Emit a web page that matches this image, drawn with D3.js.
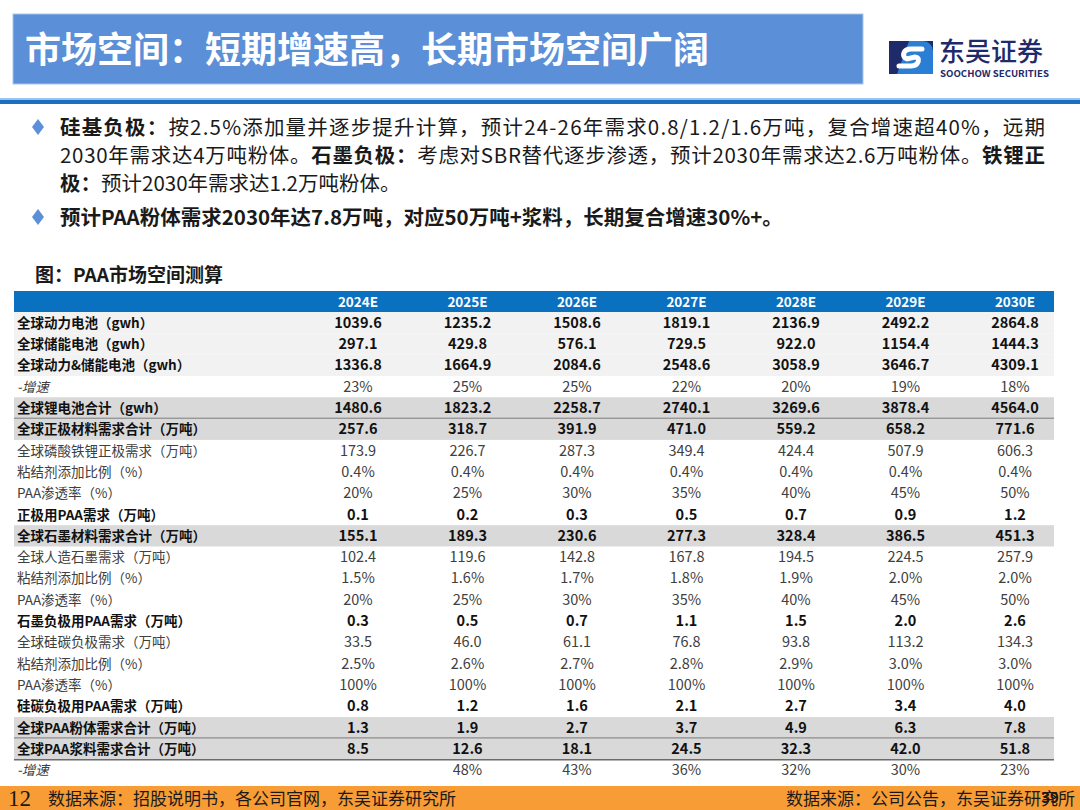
<!DOCTYPE html>
<html>
<head>
<meta charset="utf-8">
<script src="https://cdn.jsdelivr.net/npm/d3@7"></script>
<style>
  html, body { margin: 0; padding: 0; background: #fff; }
  svg { display: block; font-family: "Noto Sans CJK SC", "Noto Sans", sans-serif; }
</style>
</head>
<body>
<svg id="chart" width="1080" height="810"></svg>
<script>
// 表头与各行数据
const years = ["2024E", "2025E", "2026E", "2027E", "2028E", "2029E", "2030E"];

const powerBattery   = [1039.6, 1235.2, 1508.6, 1819.1, 2136.9, 2492.2, 2864.8];
const storageBattery = [297.1, 429.8, 576.1, 729.5, 922.0, 1154.4, 1444.3];
const powerStorage   = [1336.8, 1664.9, 2084.6, 2548.6, 3058.9, 3646.7, 4309.1];
const batteryGrowth  = [23, 25, 25, 22, 20, 19, 18];
const lithiumTotal   = [1480.6, 1823.2, 2258.7, 2740.1, 3269.6, 3878.4, 4564.0];
const cathodeTotal   = [257.6, 318.7, 391.9, 471.0, 559.2, 658.2, 771.6];
const lfpCathode     = [173.9, 226.7, 287.3, 349.4, 424.4, 507.9, 606.3];
const cathodeBinder  = [0.4, 0.4, 0.4, 0.4, 0.4, 0.4, 0.4];
const cathodePen     = [20, 25, 30, 35, 40, 45, 50];
const cathodePaa     = [0.1, 0.2, 0.3, 0.5, 0.7, 0.9, 1.2];
const graphiteTotal  = [155.1, 189.3, 230.6, 277.3, 328.4, 386.5, 451.3];
const artGraphite    = [102.4, 119.6, 142.8, 167.8, 194.5, 224.5, 257.9];
const graphiteBinder = [1.5, 1.6, 1.7, 1.8, 1.9, 2.0, 2.0];
const graphitePen    = [20, 25, 30, 35, 40, 45, 50];
const graphitePaa    = [0.3, 0.5, 0.7, 1.1, 1.5, 2.0, 2.6];
const siCarbon       = [33.5, 46.0, 61.1, 76.8, 93.8, 113.2, 134.3];
const siBinder       = [2.5, 2.6, 2.7, 2.8, 2.9, 3.0, 3.0];
const siPen          = [100, 100, 100, 100, 100, 100, 100];
const siPaa          = [0.8, 1.2, 1.6, 2.1, 2.7, 3.4, 4.0];
const paaPowder      = [1.3, 1.9, 2.7, 3.7, 4.9, 6.3, 7.8];
const paaSlurry      = [8.5, 12.6, 18.1, 24.5, 32.3, 42.0, 51.8];
const slurryGrowth   = [null, 48, 43, 36, 32, 30, 23];

const num = d3.format(".1f");
const pct = v => v + "%";
const pct1 = v => d3.format(".1f")(v) + "%";

// kind: b=粗体, n=常规, g=增速(斜体)  shade: 0 无, 1 浅灰, 2 灰
const rows = [
  { label: "全球动力电池（gwh）", values: powerBattery, fmt: num, kind: "b", shade: 1 },
  { label: "全球储能电池（gwh）", values: storageBattery, fmt: num, kind: "b", shade: 1 },
  { label: "全球动力&储能电池（gwh）", values: powerStorage, fmt: num, kind: "b", shade: 1 },
  { label: "-增速", values: batteryGrowth, fmt: pct, kind: "g", shade: 0 },
  { label: "全球锂电池合计（gwh）", values: lithiumTotal, fmt: num, kind: "b", shade: 2, lineBelow: true },
  { label: "全球正极材料需求合计（万吨）", values: cathodeTotal, fmt: num, kind: "b", shade: 2 },
  { label: "全球磷酸铁锂正极需求（万吨）", values: lfpCathode, fmt: num, kind: "n", shade: 0 },
  { label: "粘结剂添加比例（%）", values: cathodeBinder, fmt: pct1, kind: "n", shade: 0 },
  { label: "PAA渗透率（%）", values: cathodePen, fmt: pct, kind: "n", shade: 0 },
  { label: "正极用PAA需求（万吨）", values: cathodePaa, fmt: num, kind: "b", shade: 0 },
  { label: "全球石墨材料需求合计（万吨）", values: graphiteTotal, fmt: num, kind: "b", shade: 2 },
  { label: "全球人造石墨需求（万吨）", values: artGraphite, fmt: num, kind: "n", shade: 0 },
  { label: "粘结剂添加比例（%）", values: graphiteBinder, fmt: pct1, kind: "n", shade: 0 },
  { label: "PAA渗透率（%）", values: graphitePen, fmt: pct, kind: "n", shade: 0 },
  { label: "石墨负极用PAA需求（万吨）", values: graphitePaa, fmt: num, kind: "b", shade: 0 },
  { label: "全球硅碳负极需求（万吨）", values: siCarbon, fmt: num, kind: "n", shade: 0 },
  { label: "粘结剂添加比例（%）", values: siBinder, fmt: pct1, kind: "n", shade: 0 },
  { label: "PAA渗透率（%）", values: siPen, fmt: pct, kind: "n", shade: 0 },
  { label: "硅碳负极用PAA需求（万吨）", values: siPaa, fmt: num, kind: "b", shade: 0 },
  { label: "全球PAA粉体需求合计（万吨）", values: paaPowder, fmt: num, kind: "b", shade: 2, lineBelow: true },
  { label: "全球PAA浆料需求合计（万吨）", values: paaSlurry, fmt: num, kind: "b", shade: 2, lineBelow: true },
  { label: "-增速", values: slurryGrowth, fmt: pct, kind: "g", shade: 0 }
];

const svg = d3.select("#chart");

// ---- 标题栏 ----
svg.append("rect").attr("x", 13).attr("y", 14).attr("width", 850).attr("height", 70)
  .attr("fill", "#5b8fd7").attr("stroke", "#a9c6ec").attr("stroke-width", 1);
svg.append("text").attr("x", 25).attr("y", 63)
  .attr("fill", "#fff").attr("font-size", 36).attr("font-weight", 700)
  .text("市场空间：短期增速高，长期市场空间广阔");

// logo
const logo = svg.append("g").attr("transform", "translate(889,41)");
logo.append("rect").attr("width", 44).attr("height", 33).attr("fill", "#1f2a6b");
logo.append("path").attr("d", "M20,0 H34 A10,10 0 0 1 44,10 V33 H8 Z").attr("fill", "#2a7fd4");
logo.append("path")
  .attr("d", "M33,8 L22,8 C14,8 12,16 18,18 L26,16 C32,16 30,25 22,25 L10,25")
  .attr("fill", "none").attr("stroke", "#fff").attr("stroke-width", 5).attr("stroke-linecap", "round");
svg.append("text").attr("x", 939).attr("y", 61)
  .attr("fill", "#1f2a6b").attr("font-size", 26).attr("font-weight", 500)
  .text("东吴证券");
svg.append("text").attr("x", 940).attr("y", 77)
  .attr("fill", "#1f2a6b").attr("font-size", 9).attr("font-weight", 700)
  .attr("textLength", 109).attr("lengthAdjust", "spacingAndGlyphs")
  .text("SOOCHOW SECURITIES");

// 分隔线
svg.append("rect").attr("x", 0).attr("y", 98).attr("width", 1080).attr("height", 2).attr("fill", "#9cc3ea");
svg.append("rect").attr("x", 0).attr("y", 100).attr("width", 1080).attr("height", 4).attr("fill", "#1b6fc0");

// ---- 要点 ----
function diamond(cx, cy) {
  svg.append("path")
    .attr("d", `M${cx},${cy - 8} L${cx + 6},${cy} L${cx},${cy + 8} L${cx - 6},${cy} Z`)
    .attr("fill", "#5b8fd7");
}
diamond(38, 127);
diamond(38, 217);

const bulletLines = [
  { y: 135, parts: [["硅基负极：", 700], ["按2.5%添加量并逐步提升计算，预计24-26年需求0.8/1.2/1.6万吨，复合增速超40%，远期", 400]] },
  { y: 163, parts: [["2030年需求达4万吨粉体。", 400], ["石墨负极：", 700], ["考虑对SBR替代逐步渗透，预计2030年需求达2.6万吨粉体。", 400], ["铁锂正", 700]] },
  { y: 191, parts: [["极：", 700], ["预计2030年需求达1.2万吨粉体。", 400]] },
  { y: 225, parts: [["预计PAA粉体需求2030年达7.8万吨，对应50万吨+浆料，长期复合增速30%+。", 700]] }
];
bulletLines.forEach((ln, i) => {
  const t = svg.append("text").attr("x", 60).attr("y", ln.y)
    .attr("font-size", 20.5).attr("fill", "#1a1a1a");
  ln.parts.forEach(p => t.append("tspan").attr("font-weight", p[1]).text(p[0]));
  if (i < 2) t.attr("textLength", 985).attr("lengthAdjust", "spacing");
});

svg.append("text").attr("x", 35).attr("y", 282)
  .attr("font-size", 19).attr("font-weight", 700).attr("fill", "#1a1a1a")
  .text("图：PAA市场空间测算");

// ---- 表格 ----
const tableLeft = 14, tableRight = 1054;
const x = d3.scalePoint().domain(years).range([358, 1015]);
const y = d3.scaleBand().domain(d3.range(rows.length)).range([312, 781]);
const headerTop = 291;

svg.append("rect").attr("x", tableLeft).attr("y", headerTop)
  .attr("width", tableRight - tableLeft).attr("height", y(0) - headerTop)
  .attr("fill", "#0a70c0");
svg.append("g").selectAll("text").data(years).join("text")
  .attr("x", d => x(d)).attr("y", (headerTop + y(0)) / 2 + 5)
  .attr("text-anchor", "middle").attr("fill", "#fff")
  .attr("font-size", 13.5).attr("font-weight", 700)
  .text(d => d);

const shadeColor = ["none", "#f2f2f2", "#d9d9d9"];
const rowG = svg.append("g").selectAll("g").data(rows).join("g")
  .attr("transform", (d, i) => `translate(0,${y(i)})`);

rowG.filter(d => d.shade > 0).append("rect")
  .attr("x", tableLeft).attr("width", tableRight - tableLeft).attr("height", y.bandwidth())
  .attr("fill", d => shadeColor[d.shade]);

rowG.filter(d => d.lineBelow).append("line")
  .attr("x1", tableLeft).attr("x2", tableRight)
  .attr("y1", y.bandwidth()).attr("y2", y.bandwidth())
  .attr("stroke", "#6b6b6b").attr("stroke-width", 1.5);

const midY = y.bandwidth() / 2 + 5;
rowG.append("text")
  .attr("x", 17).attr("y", midY)
  .attr("font-size", 13.5)
  .attr("font-weight", d => d.kind === "b" ? 700 : 400)
  .attr("font-style", d => d.kind === "g" ? "italic" : "normal")
  .attr("fill", d => d.kind === "b" ? "#111" : "#404040")
  .text(d => d.label);

rowG.each(function (row) {
  d3.select(this).selectAll("text.val")
    .data(row.values.map((v, j) => ({ v, year: years[j] })).filter(c => c.v !== null))
    .join("text").attr("class", "val")
    .attr("x", c => x(c.year)).attr("y", midY)
    .attr("text-anchor", "middle")
    .attr("font-size", 14.5)
    .attr("font-weight", row.kind === "b" ? 700 : 400)
    .attr("fill", row.kind === "b" ? "#111" : "#404040")
    .text(c => row.fmt(c.v));
});

// ---- 页脚 ----
svg.append("rect").attr("x", 0).attr("y", 786).attr("width", 1080).attr("height", 24).attr("fill", "#f89c35");
svg.append("text").attr("x", 8).attr("y", 806)
  .attr("font-family", "Liberation Serif, serif").attr("font-size", 23).attr("fill", "#1a1a1a")
  .text("12");
svg.append("text").attr("x", 48).attr("y", 805)
  .attr("font-size", 17).attr("fill", "#1a1a1a")
  .text("数据来源：招股说明书，各公司官网，东吴证券研究所");
svg.append("text").attr("x", 1075).attr("y", 805).attr("text-anchor", "end")
  .attr("font-size", 17).attr("fill", "#1a1a1a")
  .text("数据来源：公司公告，东吴证券研究所");
// 原图页码与来源文字重叠
svg.append("text").attr("x", 1050).attr("y", 803).attr("text-anchor", "middle")
  .attr("font-size", 15).attr("font-weight", 700).attr("fill", "#1a1a1a")
  .text("39");
</script>
</body>
</html>
